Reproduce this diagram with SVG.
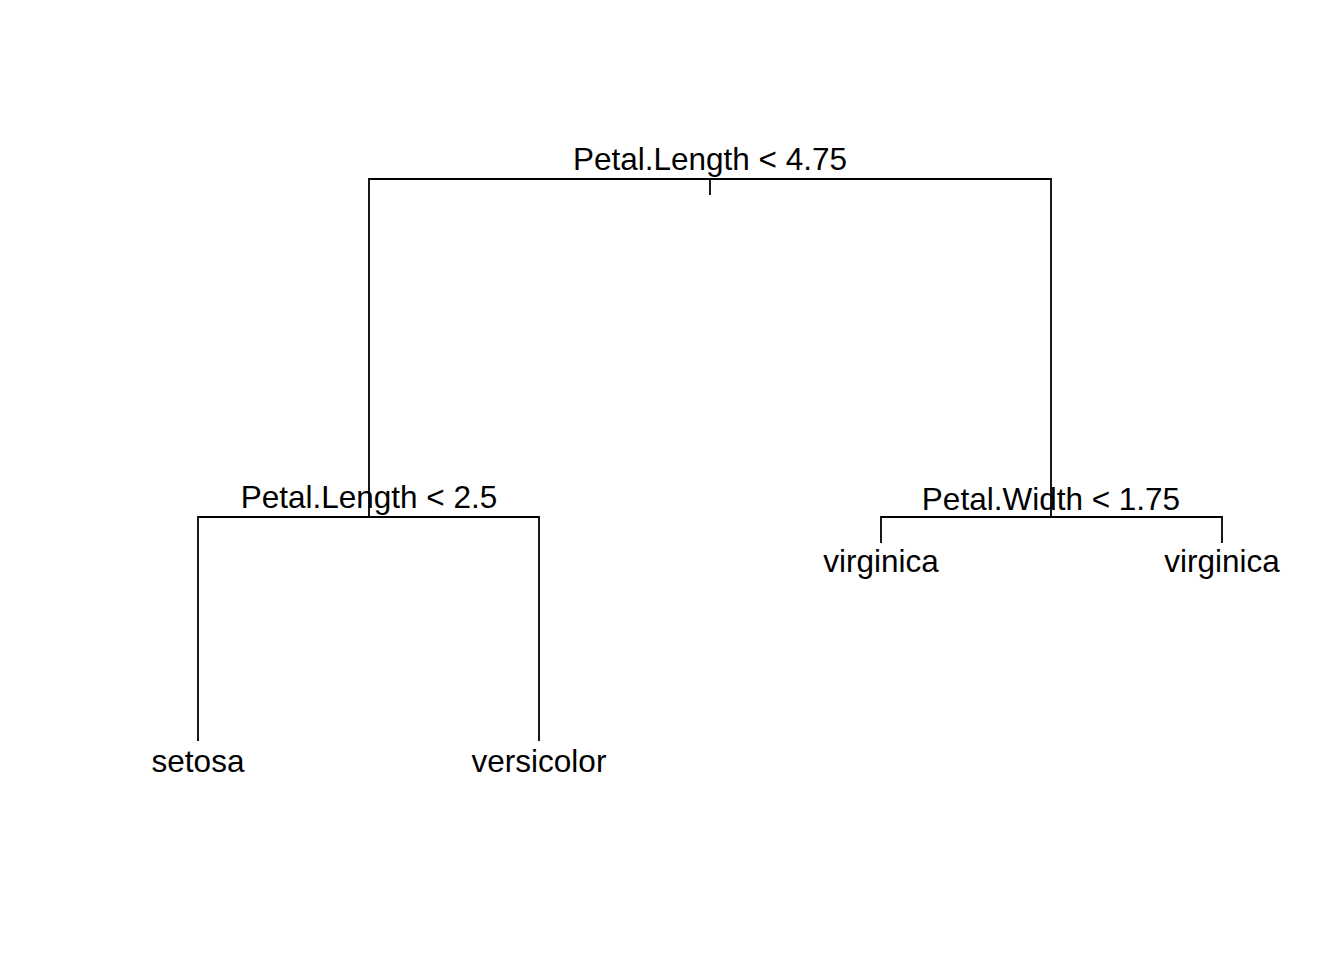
<svg xmlns="http://www.w3.org/2000/svg" width="1344" height="960" viewBox="0 0 1344 960">
<style>
.e{stroke:#000;stroke-width:1.8;fill:none;stroke-linecap:butt}
text{font-family:"Liberation Sans",Arial,sans-serif;font-size:31.5px;fill:#000;text-anchor:middle}
</style>
<rect width="1344" height="960" fill="#fff"/>
<g id="connectors">
<path class="e" d="M710,195V179M369,517V179H1051V517"/>
<path class="e" d="M198,741V517H539V741"/>
<path class="e" d="M881,543V517H1222V543"/>
</g>
<g id="n1"><text x="710" y="170">Petal.Length &lt; 4.75</text></g>
<g id="n2"><text x="369" y="508">Petal.Length &lt; 2.5</text></g>
<g id="n3"><text x="1051" y="510">Petal.Width &lt; 1.75</text></g>
<g id="n4"><text x="198" y="772">setosa</text></g>
<g id="n5"><text x="539" y="772">versicolor</text></g>
<g id="n6"><text x="881" y="572">virginica</text></g>
<g id="n7"><text x="1222" y="572">virginica</text></g>
</svg>
